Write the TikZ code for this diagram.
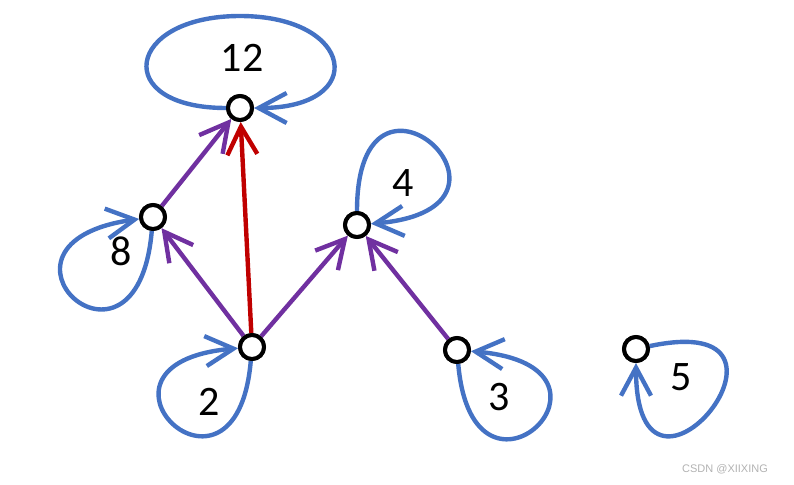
\documentclass[tikz,border=0pt]{standalone}
\usepackage{fontspec}
\setmainfont{Carlito}
\newfontfamily\marksans{Liberation Sans}
\usetikzlibrary{arrows.meta}
\definecolor{loopblue}{RGB}{68,114,196}
\definecolor{arcpurple}{RGB}{112,48,160}
\definecolor{arcred}{RGB}{192,0,0}

\begin{document}
\begin{tikzpicture}[x=1pt,y=1pt,
  vertex/.style={circle,draw=black,fill=white,line width=4pt,minimum size=24pt,inner sep=0pt},
  vlabel/.style={font=\fontsize{42}{50}\selectfont},
  barb/.style={-{Straight Barb[length=28pt,width=30pt]}},
  loopline/.style={barb,loopblue,line width=4.4pt},
  arc/.style={barb,arcpurple,line width=4.4pt}]
  \useasboundingbox (0,0) rectangle (794,-484);
  \node[vertex] (v12) at (240,-108) {};
  \node[vertex] (v8) at (153,-217) {};
  \node[vertex] (v4) at (357,-225) {};
  \node[vertex] (v2) at (252,-347) {};
  \node[vertex] (v3) at (457,-350) {};
  \node[vertex] (v5) at (636,-349) {};
  \draw[loopline] (v12.west) to[out=180,in=180,distance=115pt] ([yshift=92pt]v12.center)
    to[out=0,in=0,distance=115pt] (v12.east);
  \draw[loopline] (v8) to[out=-95,in=188,out distance=172pt,in distance=175pt] (v8);
  \draw[loopline] (v2) to[out=-95,in=185,out distance=170pt,in distance=175pt] (v2);
  \draw[loopline] (v3) to[out=-85,in=-5,out distance=170pt,in distance=175pt] (v3);
  \draw[loopline] (v4) to[out=90,in=5,out distance=180pt,in distance=180pt] (v4);
  \draw[loopline] (v5) to[out=12,in=-90,out distance=185pt,in distance=185pt] (v5);
  \draw[arc] (v8) -- (v12);
  \draw[arc] (v2) -- (v8);
  \draw[arc] (v2) -- (v4);
  \draw[arc] (v3) -- (v4);
  \draw[arc,arcred] (v2) -- (v12);
  \foreach \v in {v12,v8,v4,v2,v3,v5}
    \node[vertex] at (\v) {};
  \node[vlabel] (l12) at (242,-58) {12};
  \node[vlabel] (l8) at (121,-251) {8};
  \node[vlabel] (l4) at (403,-183) {4};
  \node[vlabel] (l2) at (209,-402) {2};
  \node[vlabel] (l3) at (499,-397) {3};
  \node[vlabel] (l5) at (681,-377) {5};
  \node[text=black!30,font=\marksans\fontsize{11}{13}\selectfont] (mark) at (725,-469) {CSDN @XIIXING};
\end{tikzpicture}
\end{document}
